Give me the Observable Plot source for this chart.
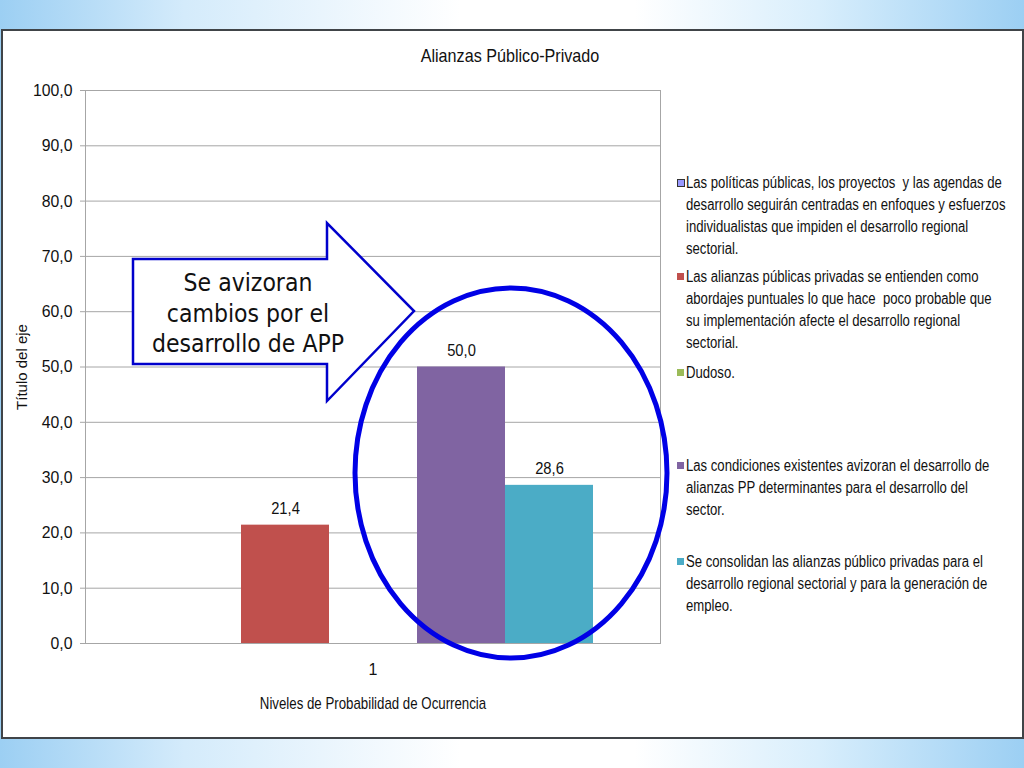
<!DOCTYPE html>
<html>
<head>
<meta charset="utf-8">
<script src="https://cdn.jsdelivr.net/npm/d3@7"></script>
<script src="https://cdn.jsdelivr.net/npm/@observablehq/plot@0.6"></script>
<style>
  html, body { margin: 0; padding: 0; }
  body { width: 1024px; height: 768px; position: relative; overflow: hidden;
    background: linear-gradient(to right, #9ccff3 0%, #d4ebfb 18%, #ffffff 45%, #ffffff 62%, #d8eefc 80%, #9ccff3 100%); }
  #panel { position: absolute; left: 1px; top: 29px; width: 1019px; height: 706px; background: #fff; border: 2px solid #404448; }
  #chart { position: absolute; left: 0; top: 0; }
  #title { position: absolute; left: 310px; width: 400px; top: 45px; text-align: center; font-size: 19px; color: #111;
    font-family: "Liberation Sans", Arial, sans-serif; transform: scaleX(0.85); transform-origin: 200px 0; }
  .leg { position: absolute; left: 686px; font-size: 16px; line-height: 22px; color: #111; white-space: nowrap;
    font-family: "Liberation Sans", Arial, sans-serif; transform: scaleX(0.82); transform-origin: 0 0; }
  .sw { position: absolute; left: 677px; width: 7px; height: 7px; }
  #overlay { position: absolute; left: 0; top: 0; }
</style>
</head>
<body>
<div id="panel"></div>
<div id="chart"></div>
<div id="title">Alianzas Público-Privado</div>
<div id="legend"></div>
<svg id="overlay" width="1024" height="768">
  <ellipse cx="511" cy="473" rx="156" ry="185" fill="none" stroke="#0000e6" stroke-width="5"/>
  <polygon points="133,259 327,259 327,223 414,311 327,401 327,364 133,364" fill="#fff" stroke="#0000cc" stroke-width="2.5"/>
  <g font-family="'DejaVu Sans Condensed','DejaVu Sans',sans-serif" font-size="24.5" text-anchor="middle" fill="#111">
    <text x="248" y="291">Se avizoran</text>
    <text x="248" y="322">cambios por el</text>
    <text x="248" y="352">desarrollo de APP</text>
  </g>
</svg>
<script>
const categories = ["1"];
const series = [
  "Las políticas públicas, los proyectos y las agendas de desarrollo seguirán centradas en enfoques y esfuerzos individualistas que impiden el desarrollo regional sectorial.",
  "Las alianzas públicas privadas se entienden como abordajes puntuales lo que hace  poco probable que su implementación afecte el desarrollo regional sectorial.",
  "Dudoso.",
  "Las condiciones existentes avizoran el desarrollo de alianzas PP determinantes para el desarrollo del sector.",
  "Se consolidan las alianzas público privadas para el desarrollo regional sectorial y para la generación de empleo."
];
const legendLines = [
  ["Las políticas públicas, los proyectos  y las agendas de", "desarrollo seguirán centradas en enfoques y esfuerzos", "individualistas que impiden el desarrollo regional", "sectorial."],
  ["Las alianzas públicas privadas se entienden como", "abordajes puntuales lo que hace  poco probable que", "su implementación afecte el desarrollo regional", "sectorial."],
  ["Dudoso."],
  ["Las condiciones existentes avizoran el desarrollo de", "alianzas PP determinantes para el desarrollo del", "sector."],
  ["Se consolidan las alianzas público privadas para el", "desarrollo regional sectorial y para la generación de", "empleo."]
];
const values = [null, 21.4, null, 50.0, 28.6];
const colors = ["#9999FF", "#C0504D", "#9BBB59", "#8064A2", "#4BACC6"];
const yTicks = [0, 10, 20, 30, 40, 50, 60, 70, 80, 90, 100];
const xTitle = "Niveles de Probabilidad de Ocurrencia";
const yTitle = "Título del eje";

const fmt = v => v.toFixed(1).replace(".", ",");
const data = series.map((s, i) => ({cat: categories[0], series: s, value: values[i]})).filter(d => d.value != null);
const font = "'Liberation Sans',Arial,sans-serif";

const chart = Plot.plot({
  width: 680, height: 740,
  marginLeft: 85, marginRight: 20, marginTop: 90, marginBottom: 97,
  style: {fontFamily: font, fontSize: "17px", background: "transparent", color: "#111", overflow: "visible"},
  fx: {domain: categories, padding: 0, label: null},
  x: {domain: series, paddingInner: 0, paddingOuter: 0.745, axis: null},
  y: {domain: [0, 100]},
  color: {domain: series, range: colors},
  marks: [
    Plot.gridY(yTicks, {stroke: "#a6a6a6", strokeOpacity: 1}),
    Plot.frame({stroke: "#a6a6a6"}),
    Plot.axisY(yTicks, {tickFormat: fmt, tickSize: 5, tickPadding: 8, stroke: "#a6a6a6", label: null, fontSize: 17, className: "yax"}),
    Plot.barY(data, {fx: "cat", x: "series", y: "value", fill: "series"}),
    Plot.text(data, {fx: "cat", x: "series", y: "value", text: d => fmt(d.value), dy: -16, fontSize: 16, className: "vlab"}),
    Plot.axisFx({anchor: "bottom", tickSize: 0, tickPadding: 20, label: null, fontSize: 16}),
    Plot.text([xTitle], {text: d => d, frameAnchor: "bottom", dy: 65, fontSize: 16, className: "xtitle"}),
    Plot.text([yTitle], {text: d => d, frameAnchor: "left", textAnchor: "middle", rotate: -90, dx: -63, fontSize: 15})
  ]
});
document.getElementById("chart").appendChild(chart);

// condense texts horizontally around their anchor (narrow-font look)
function condense(t, s) {
  const bb = t.getBBox();
  const tl = t.transform.baseVal;
  const m = tl.numberOfItems ? tl.consolidate().matrix : null;
  const anchor = getComputedStyle(t).textAnchor;
  const base = anchor === "end" ? bb.x + bb.width : anchor === "start" ? bb.x : bb.x + bb.width / 2;
  const ax = base + (m ? m.e : 0);
  const g = document.createElementNS("http://www.w3.org/2000/svg", "g");
  g.setAttribute("transform", `translate(${ax},0) scale(${s},1) translate(${-ax},0)`);
  t.parentNode.insertBefore(g, t);
  g.appendChild(t);
}
chart.querySelectorAll(".xtitle text").forEach(t => condense(t, 0.83));
chart.querySelectorAll(".yax text").forEach(t => condense(t, 0.93));
chart.querySelectorAll(".vlab text").forEach(t => condense(t, 0.92));

const tops = [172, 266, 362, 455, 551];
const legend = document.getElementById("legend");
legendLines.forEach((lines, i) => {
  const div = document.createElement("div");
  div.className = "leg";
  div.style.top = tops[i] + "px";
  div.innerHTML = lines.map(l => l.replace(/  /g, "&nbsp; ")).join("<br>");
  legend.appendChild(div);
  const sw = document.createElement("div");
  sw.className = "sw";
  sw.style.top = (tops[i] + 7) + "px";
  sw.style.background = colors[i];
  if (i === 0) { sw.style.border = "1px solid #333"; sw.style.width = "6px"; sw.style.height = "6px"; }
  legend.appendChild(sw);
});
</script>
</body>
</html>
